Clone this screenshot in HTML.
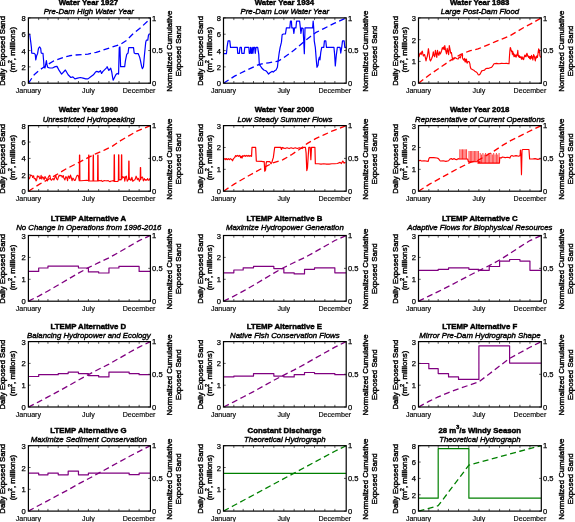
<!DOCTYPE html><html><head><meta charset="utf-8"><style>html,body{margin:0;padding:0;background:#fff;}svg{display:block;will-change:transform;}text{font-family:"Liberation Sans",sans-serif;}</style></head><body>
<svg width="575" height="522" viewBox="0 0 575 522">
<rect width="575" height="522" fill="#fff"/>
<clipPath id="c0"><rect x="28.4" y="17.9" width="122" height="65.3"/></clipPath>
<g clip-path="url(#c0)" fill="none" stroke="#0000ff" stroke-linejoin="round">
<polyline points="28.4,83.2 34.15,74.78 39.59,70.03 43.66,67.31 47.74,64.59 53.17,61.2 58.61,59.16 64.04,57.12 69.48,55.76 74.91,55.08 83.07,54.4 88,54.13 96.15,52.36 104.3,49.65 112.46,46.93 120.61,44.21 126.04,40.82 132.84,34.02 139.63,28.59 147.78,21.11 150.4,17.9" stroke-width="1.3" stroke-dasharray="6 3.5"/>
<polyline points="28.99,34.02 29.8,34.7 30.76,42.17 31.43,47.61 31.71,53.04 34.15,53.32 35.24,54.4 35.78,59.84 36.6,55.76 37.55,53.72 38.5,48.29 39.59,46.93 40.67,48.29 41.22,53.04 42.98,53.32 43.66,61.2 44.07,67.31 45.02,67.99 46.38,60.52 47.06,65.27 47.74,67.31 49.78,67.99 52.49,67.99 55.21,66.63 56.98,66.36 59.29,70.71 61.6,74.1 65.4,70.03 68.12,74.78 70.84,77.5 72.88,76.82 74.91,78.86 77.63,78.18 80.35,77.5 83.07,78.18 85.78,78.86 88,78.86 90.72,76.82 93.43,74.78 95.47,72.07 96.83,71.39 98.87,72.07 100.5,70.71 101.59,73.42 102.95,71.39 104.98,69.35 107.02,67.31 107.13,66.63 108.83,70.43 110.72,68.26 111.72,71.79 112.62,77.5 113.14,80.22 114.49,77.5 115.85,74.78 117.21,73.42 118.57,74.1 119.25,47.61 119.93,46.93 120.61,66.63 121.97,66.63 124.68,66.63 125.36,61.2 126.72,54.4 128.08,53.04 128.76,47.61 133.52,47.61 134.2,53.04 135.55,53.72 138.27,53.72 139.63,57.12 140.31,59.84 141.67,66.63 142.35,68.67 143.43,66.63 144.39,55.76 145.74,42.17 146.42,40.14 147.78,40.14 148.46,35.38 149.14,34.02 151.86,34.02" stroke-width="1.2"/>
</g>
<path d="M38.68 83.2v-2.2M38.68 17.9v2.2M47.96 83.2v-2.2M47.96 17.9v2.2M58.24 83.2v-2.2M58.24 17.9v2.2M68.18 83.2v-2.2M68.18 17.9v2.2M78.46 83.2v-2.2M78.46 17.9v2.2M88.41 83.2v-2.2M88.41 17.9v2.2M98.68 83.2v-2.2M98.68 17.9v2.2M108.96 83.2v-2.2M108.96 17.9v2.2M118.91 83.2v-2.2M118.91 17.9v2.2M129.18 83.2v-2.2M129.18 17.9v2.2M139.13 83.2v-2.2M139.13 17.9v2.2M28.4 83.2h2.2M28.4 66.88h2.2M28.4 50.55h2.2M28.4 34.22h2.2M28.4 17.9h2.2M150.4 83.2h-2.2M150.4 50.55h-2.2M150.4 17.9h-2.2" stroke="#333" stroke-width="0.8" fill="none"/>
<rect x="28.4" y="17.9" width="122" height="65.3" fill="none" stroke="#000" stroke-width="1.2"/>
<text x="88.4" y="5" font-size="7.8" font-weight="bold" text-anchor="middle" stroke="#000" stroke-width="0.45">Water Year 1927</text>
<text x="88.8" y="14.3" font-size="7.8" font-style="italic" text-anchor="middle" stroke="#000" stroke-width="0.4">Pre-Dam High Water Year</text>
<text x="25.8" y="86.2" font-size="7.6" text-anchor="end" stroke="#000" stroke-width="0.25">0</text>
<text x="25.8" y="69.88" font-size="7.6" text-anchor="end" stroke="#000" stroke-width="0.25">2</text>
<text x="25.8" y="53.55" font-size="7.6" text-anchor="end" stroke="#000" stroke-width="0.25">4</text>
<text x="25.8" y="37.22" font-size="7.6" text-anchor="end" stroke="#000" stroke-width="0.25">6</text>
<text x="25.8" y="20.9" font-size="7.6" text-anchor="end" stroke="#000" stroke-width="0.25">8</text>
<text x="152.1" y="85.9" font-size="7.6" stroke="#000" stroke-width="0.25">0</text>
<text x="152.1" y="53.25" font-size="7.6" stroke="#000" stroke-width="0.25">0.5</text>
<text x="152.1" y="20.6" font-size="7.6" stroke="#000" stroke-width="0.25">1</text>
<text x="28.4" y="92.7" font-size="7.1" text-anchor="middle" stroke="#000" stroke-width="0.15">January</text>
<text x="88.41" y="92.7" font-size="7.1" text-anchor="middle" stroke="#000" stroke-width="0.15">July</text>
<text x="139.13" y="92.7" font-size="7.1" text-anchor="middle" stroke="#000" stroke-width="0.15">December</text>
<text transform="translate(5.4,50.95) rotate(-90)" font-size="7.75" text-anchor="middle" stroke="#000" stroke-width="0.4">Daily Exposed Sand</text>
<text transform="translate(14.6,49.7) rotate(-90)" font-size="7.9" text-anchor="middle" stroke="#000" stroke-width="0.4">(m<tspan font-size="5.5" dy="-3">2</tspan><tspan dy="3">, millions)</tspan></text>
<text transform="translate(171.6,51.25) rotate(-90)" font-size="7.85" text-anchor="middle" stroke="#000" stroke-width="0.4">Normalized Cumulative</text>
<text transform="translate(181.1,51.05) rotate(-90)" font-size="7.85" text-anchor="middle" stroke="#000" stroke-width="0.4">Exposed Sand</text>
<clipPath id="c1"><rect x="223.5" y="17.9" width="122.7" height="65.3"/></clipPath>
<g clip-path="url(#c1)" fill="none" stroke="#0000ff" stroke-linejoin="round">
<polyline points="223.5,83.2 234.59,76.14 245.46,70.71 257.68,65 261.76,63.91 268.55,62.83 278.07,61.2 283,58.21 293.87,50.33 303.38,42.17 310.17,36.74 315.61,32.66 323.76,28.59 334.63,23.15 346.2,17.9" stroke-width="1.3" stroke-dasharray="6 3.5"/>
<polyline points="223.45,53.72 226.43,53.72 227.11,46.93 228.07,40.82 229.83,40.82 230.51,47.34 237.3,47.34 237.71,53.32 239.34,53.32 240.02,47.34 241.38,47.34 241.79,53.32 244.1,53.32 244.78,47.34 248.85,47.34 249.26,53.32 250.21,53.32 250.62,47.34 251.57,53.32 252.25,47.34 252.93,53.32 253.61,47.34 254.7,47.34 255.24,53.32 256.05,47.34 257.68,47.34 258.77,54.4 259.32,64.59 260.4,65.95 261.76,67.99 263.8,70.03 265.84,70.71 267.2,72.07 268.55,74.1 269.91,72.74 271.95,71.39 273.31,72.07 274.67,70.71 276.03,70.03 277.39,67.31 278.07,61.2 279.15,53.04 280.1,47.61 281.46,42.17 282.14,34.7 283.5,34.02 283,34.02 285.45,34.02 286.4,27.91 289.79,27.91 290.47,21.11 291.42,21.11 291.83,27.91 293.19,27.91 293.87,33.34 294.55,27.91 295.91,27.91 296.59,21.11 299.58,21.11 300.39,27.91 300.93,33.34 301.75,27.91 303.11,28.59 303.65,39.46 304.33,53.72 305.01,27.91 312.62,27.91 313.16,21.11 313.71,27.91 314.25,40.82 315.34,47.61 316.29,59.84 316.97,67.31 318.05,65.27 318.6,59.84 319.41,57.12 319.96,59.84 320.77,52.36 321.72,47.34 323.76,47.34 324.44,40.82 325.8,40.82 326.48,47.34 333.95,47.34 334.63,54.4 335.31,65.95 336.26,55.76 337.35,47.34 340.07,47.34 340.74,53.04 341.7,47.34 342.51,40.82 344.14,40.82 344.82,47.34 346.99,47.34" stroke-width="1.2"/>
</g>
<path d="M233.84 83.2v-2.2M233.84 17.9v2.2M243.17 83.2v-2.2M243.17 17.9v2.2M253.51 83.2v-2.2M253.51 17.9v2.2M263.51 83.2v-2.2M263.51 17.9v2.2M273.85 83.2v-2.2M273.85 17.9v2.2M283.85 83.2v-2.2M283.85 17.9v2.2M294.19 83.2v-2.2M294.19 17.9v2.2M304.52 83.2v-2.2M304.52 17.9v2.2M314.52 83.2v-2.2M314.52 17.9v2.2M324.86 83.2v-2.2M324.86 17.9v2.2M334.86 83.2v-2.2M334.86 17.9v2.2M223.5 83.2h2.2M223.5 66.88h2.2M223.5 50.55h2.2M223.5 34.22h2.2M223.5 17.9h2.2M346.2 83.2h-2.2M346.2 50.55h-2.2M346.2 17.9h-2.2" stroke="#333" stroke-width="0.8" fill="none"/>
<rect x="223.5" y="17.9" width="122.7" height="65.3" fill="none" stroke="#000" stroke-width="1.2"/>
<text x="284.45" y="5" font-size="7.8" font-weight="bold" text-anchor="middle" stroke="#000" stroke-width="0.45">Water Year 1934</text>
<text x="284.85" y="14.3" font-size="7.8" font-style="italic" text-anchor="middle" stroke="#000" stroke-width="0.4">Pre-Dam Low Water Year</text>
<text x="220.9" y="86.2" font-size="7.6" text-anchor="end" stroke="#000" stroke-width="0.25">0</text>
<text x="220.9" y="69.88" font-size="7.6" text-anchor="end" stroke="#000" stroke-width="0.25">2</text>
<text x="220.9" y="53.55" font-size="7.6" text-anchor="end" stroke="#000" stroke-width="0.25">4</text>
<text x="220.9" y="37.22" font-size="7.6" text-anchor="end" stroke="#000" stroke-width="0.25">6</text>
<text x="220.9" y="20.9" font-size="7.6" text-anchor="end" stroke="#000" stroke-width="0.25">8</text>
<text x="347.9" y="85.9" font-size="7.6" stroke="#000" stroke-width="0.25">0</text>
<text x="347.9" y="53.25" font-size="7.6" stroke="#000" stroke-width="0.25">0.5</text>
<text x="347.9" y="20.6" font-size="7.6" stroke="#000" stroke-width="0.25">1</text>
<text x="223.5" y="92.7" font-size="7.1" text-anchor="middle" stroke="#000" stroke-width="0.15">January</text>
<text x="283.85" y="92.7" font-size="7.1" text-anchor="middle" stroke="#000" stroke-width="0.15">July</text>
<text x="334.86" y="92.7" font-size="7.1" text-anchor="middle" stroke="#000" stroke-width="0.15">December</text>
<text transform="translate(203.1,50.95) rotate(-90)" font-size="7.75" text-anchor="middle" stroke="#000" stroke-width="0.4">Daily Exposed Sand</text>
<text transform="translate(212.3,49.7) rotate(-90)" font-size="7.9" text-anchor="middle" stroke="#000" stroke-width="0.4">(m<tspan font-size="5.5" dy="-3">2</tspan><tspan dy="3">, millions)</tspan></text>
<text transform="translate(367.9,51.25) rotate(-90)" font-size="7.85" text-anchor="middle" stroke="#000" stroke-width="0.4">Normalized Cumulative</text>
<text transform="translate(377.4,51.05) rotate(-90)" font-size="7.85" text-anchor="middle" stroke="#000" stroke-width="0.4">Exposed Sand</text>
<clipPath id="c2"><rect x="418.5" y="17.9" width="122.8" height="65.3"/></clipPath>
<g clip-path="url(#c2)" fill="none" stroke="#ff0000" stroke-linejoin="round">
<polyline points="418.5,83.2 429.59,74.78 440.46,67.31 451.33,59.84 460.84,54.4 470.35,50.6 478,48.97 486.15,45.57 494.3,42.17 502.46,38.78 510.61,35.38 517.4,31.3 525.55,26.55 532.35,23.15 541.3,17.9" stroke-width="1.3" stroke-dasharray="6 3.5"/>
<polyline points="418,56.35 419.04,56.7 419.74,53.91 420.43,52.87 421.13,54.61 421.83,51.83 422.31,51.13 422.87,53.91 423.43,56 423.91,54.96 424.61,54.61 425.3,57.39 426,60.87 426.7,58.09 427.39,56 428.43,48.7 429.13,53.91 429.83,59.48 430.52,60.87 431.57,58.78 432.61,56 433.3,51.83 433.86,55.3 434.7,56.7 435.39,50.43 436.09,53.91 436.78,57.39 437.48,50.43 438.17,53.91 438.87,55.3 439.57,51.83 440.26,53.91 440.96,52.52 441.65,50.43 442.35,47.65 443.04,49.04 443.74,46.96 444.3,49.74 444.78,45.57 445.27,48.35 445.83,51.13 446.52,53.91 447.22,48.35 447.91,51.13 448.61,54.61 449.3,45.57 450,49.04 450.7,53.22 451.39,52.52 452.09,56.7 452.78,60.17 453.48,58.09 454.17,58.78 454.87,57.39 457.04,58.7 458.09,59.04 458.78,57.65 459.48,56.96 460.17,58 460.87,55.91 461.57,54.87 462.26,54.52 462.61,54.87 462.4,57.65 462.96,59.04 463.65,60.09 464.35,58.35 465.04,61.83 465.74,59.04 466.09,61.83 466.43,59.04 467.13,63.22 467.83,61.83 468.52,61.48 469.22,61.83 469.91,63.91 470.26,66.7 470.96,68.78 472.35,69.48 473.74,70.17 474.78,71.22 476.17,71.91 477.22,72.96 478.26,74.7 478.96,75.04 480,74.35 481.04,72.26 481.74,70.87 483.13,70.52 484.52,70.17 485.57,68.78 486.96,68.43 488.35,68.43 490.09,67.74 491.48,67.39 492.17,66.7 494,63.79 496.5,63.37 499.01,63.79 501.51,63.37 504.02,63.54 506.52,63.37 509.03,63.79 509.44,56.69 509.86,50.85 510.28,47.51 510.69,48.35 511.11,50.02 511.53,51.69 511.95,50.85 512.36,54.19 512.78,51.69 513.2,55.03 513.62,53.36 514.03,56.69 514.45,55.86 514.87,54.61 515.29,56.69 515.7,55.44 516.12,57.11 516.54,55.86 516.95,54.19 517.37,55.03 517.79,50.43 518.21,55.86 518.62,56.69 519.04,55.44 519.46,57.53 519.88,56.28 520.29,57.53 520.71,57.11 521.13,57.95 521.55,59.2 521.96,56.69 522.38,57.53 522.8,59.2 523.22,57.95 523.63,59.62 524.05,57.53 524.47,56.28 524.88,55.03 525.3,56.69 525.72,55.44 526.14,56.69 526.55,54.19 526.97,53.36 527.39,54.61 527.81,56.28 528.22,55.86 528.64,57.53 529.06,56.69 529.48,58.36 529.89,56.28 530.31,59.2 530.73,56.69 531.15,57.95 531.56,55.44 531.98,58.36 532.4,56.69 532.81,60.03 533.23,57.53 533.65,54.61 534.07,55.86 534.48,56.69 534.9,59.2 535.32,60.87 535.74,57.95 536.15,56.28 536.57,57.95 536.99,55.86 537.41,57.53 537.82,55.03 538.24,51.69 538.66,48.76 539.08,52.52 539.49,50.02 539.91,55.86 540.33,56.69 540.74,57.53" stroke-width="1.15"/>
</g>
<path d="M428.84 83.2v-2.2M428.84 17.9v2.2M438.19 83.2v-2.2M438.19 17.9v2.2M448.53 83.2v-2.2M448.53 17.9v2.2M458.54 83.2v-2.2M458.54 17.9v2.2M468.89 83.2v-2.2M468.89 17.9v2.2M478.9 83.2v-2.2M478.9 17.9v2.2M489.24 83.2v-2.2M489.24 17.9v2.2M499.59 83.2v-2.2M499.59 17.9v2.2M509.6 83.2v-2.2M509.6 17.9v2.2M519.94 83.2v-2.2M519.94 17.9v2.2M529.95 83.2v-2.2M529.95 17.9v2.2M418.5 83.2h2.2M418.5 61.43h2.2M418.5 39.67h2.2M418.5 17.9h2.2M541.3 83.2h-2.2M541.3 50.55h-2.2M541.3 17.9h-2.2" stroke="#333" stroke-width="0.8" fill="none"/>
<rect x="418.5" y="17.9" width="122.8" height="65.3" fill="none" stroke="#000" stroke-width="1.2"/>
<text x="479.75" y="5" font-size="7.8" font-weight="bold" text-anchor="middle" stroke="#000" stroke-width="0.45">Water Year 1983</text>
<text x="479.9" y="14.3" font-size="7.8" font-style="italic" text-anchor="middle" stroke="#000" stroke-width="0.4">Large Post-Dam Flood</text>
<text x="415.9" y="86.2" font-size="7.6" text-anchor="end" stroke="#000" stroke-width="0.25">0</text>
<text x="415.9" y="64.43" font-size="7.6" text-anchor="end" stroke="#000" stroke-width="0.25">1</text>
<text x="415.9" y="42.67" font-size="7.6" text-anchor="end" stroke="#000" stroke-width="0.25">2</text>
<text x="415.9" y="20.9" font-size="7.6" text-anchor="end" stroke="#000" stroke-width="0.25">3</text>
<text x="543" y="85.9" font-size="7.6" stroke="#000" stroke-width="0.25">0</text>
<text x="543" y="53.25" font-size="7.6" stroke="#000" stroke-width="0.25">0.5</text>
<text x="543" y="20.6" font-size="7.6" stroke="#000" stroke-width="0.25">1</text>
<text x="418.5" y="92.7" font-size="7.1" text-anchor="middle" stroke="#000" stroke-width="0.15">January</text>
<text x="478.9" y="92.7" font-size="7.1" text-anchor="middle" stroke="#000" stroke-width="0.15">July</text>
<text x="529.95" y="92.7" font-size="7.1" text-anchor="middle" stroke="#000" stroke-width="0.15">December</text>
<text transform="translate(398.1,50.95) rotate(-90)" font-size="7.75" text-anchor="middle" stroke="#000" stroke-width="0.4">Daily Exposed Sand</text>
<text transform="translate(407.3,49.7) rotate(-90)" font-size="7.9" text-anchor="middle" stroke="#000" stroke-width="0.4">(m<tspan font-size="5.5" dy="-3">2</tspan><tspan dy="3">, millions)</tspan></text>
<text transform="translate(563.5,51.25) rotate(-90)" font-size="7.85" text-anchor="middle" stroke="#000" stroke-width="0.4">Normalized Cumulative</text>
<text transform="translate(573,51.05) rotate(-90)" font-size="7.85" text-anchor="middle" stroke="#000" stroke-width="0.4">Exposed Sand</text>
<clipPath id="c3"><rect x="28.4" y="125.6" width="122" height="65.6"/></clipPath>
<g clip-path="url(#c3)" fill="none" stroke="#ff0000" stroke-linejoin="round">
<polyline points="28.4,191.2 39.59,184.14 53.17,176.67 66.76,168.52 78.99,162.4 88,157.65 96.15,153.57 104.3,150.17 112.46,146.1 120.61,140.66 128.76,135.91 136.91,131.15 150.4,125.6" stroke-width="1.3" stroke-dasharray="6 3.5"/>
<polyline points="28.4,176.94 29.06,178.91 29.69,178.22 30.44,175.35 31.24,175.22 32.01,175.42 32.65,177.55 33.58,175.74 34.27,178.76 35.25,178.46 36.01,180.86 36.62,180.15 37.34,175.87 37.99,176.85 38.91,176.08 39.75,178.83 40.5,178.29 41.12,175.36 41.8,179.08 42.57,176.88 43.41,177.72 44.13,179.77 45.01,176.46 45.84,178.15 46.79,179.38 47.5,180.88 48.15,177.51 49.05,175.91 49.85,175.24 50.72,179.59 51.55,180.25 52.27,179.17 53.11,178.48 53.89,180.04 54.87,177.84 55.73,175.36 56.62,178.88 57.61,179.93 58.33,177.31 59.19,175.14 59.98,176.01 60.63,175.35 61.53,175.78 62.23,177.35 63.18,175.48 63.96,178.3 64.91,179.92 65.86,176.67 66.62,177.15 67.58,180.75 68.24,176.06 68.93,176.4 69.73,178.53 70.43,175.02 71.2,177.22 72.02,180.72 72.9,178.09 73.75,179.06 74.37,180.4 75.28,180.25 76.2,177.35 76.96,175.62 77.81,175.37 78.44,176.25 79.25,180.8 79.45,155 79.75,155 79.95,180.8 81,180.74 84,180.45 86.5,180.4 88.2,180.55 88.45,181 88.65,155 88.95,155 89.15,181 90.5,181 92.6,181 92.95,181 93.15,155 93.45,155 93.65,181 95,181 97.2,181 97.55,181 97.75,155 98.05,155 98.25,181 99.2,180.52 100.2,180.84 101.2,180.43 102.2,181.45 103.2,181.14 104.2,180.58 105.2,180.7 106.2,180.82 107.2,180.84 108.2,180.55 109.2,181.42 110.2,181.59 111.2,180.96 112.2,180.98 113.2,180.5 113.95,181.4 114.15,154.8 114.45,154.8 114.65,181.4 116,181.5 118,181.4 118.35,180 118.55,154.8 118.85,154.8 119.05,180 119.6,180 120.4,179.5 121,180 121.25,179 121.45,154.8 121.75,154.8 121.95,179 122.5,176.55 123.24,177.43 124.17,176.87 124.78,181.14 125.59,176.79 126.41,176.15 127.22,181.28 128.16,179.76 128.55,179.5 128.75,161.1 129.05,161.1 129.25,179.5 129.67,177.98 130.33,180.17 131.15,180.21 131.88,177.2 132.8,181.32 133.74,180.35 134.67,180 135.36,178.8 136.11,176.16 136.72,177.51 137.42,179.74 138.4,178.42 139.38,181.34 140.15,179.5 140.35,167.6 140.65,167.6 140.85,179.5 141.16,177.97 141.85,177.22 142.53,177.1 143.38,180.86 144.31,178.59 145.17,180.32 145.81,179.57 146.77,180.22 147.67,178.58 148.34,180.26 149.08,180.32 150.06,178.14" stroke-width="1.1"/>
</g>
<path d="M38.68 191.2v-2.2M38.68 125.6v2.2M47.96 191.2v-2.2M47.96 125.6v2.2M58.24 191.2v-2.2M58.24 125.6v2.2M68.18 191.2v-2.2M68.18 125.6v2.2M78.46 191.2v-2.2M78.46 125.6v2.2M88.41 191.2v-2.2M88.41 125.6v2.2M98.68 191.2v-2.2M98.68 125.6v2.2M108.96 191.2v-2.2M108.96 125.6v2.2M118.91 191.2v-2.2M118.91 125.6v2.2M129.18 191.2v-2.2M129.18 125.6v2.2M139.13 191.2v-2.2M139.13 125.6v2.2M28.4 191.2h2.2M28.4 174.8h2.2M28.4 158.4h2.2M28.4 142h2.2M28.4 125.6h2.2M150.4 191.2h-2.2M150.4 158.4h-2.2M150.4 125.6h-2.2" stroke="#333" stroke-width="0.8" fill="none"/>
<rect x="28.4" y="125.6" width="122" height="65.6" fill="none" stroke="#000" stroke-width="1.2"/>
<text x="88.4" y="112.3" font-size="7.8" font-weight="bold" text-anchor="middle" stroke="#000" stroke-width="0.45">Water Year 1990</text>
<text x="88.8" y="121.7" font-size="7.8" font-style="italic" text-anchor="middle" stroke="#000" stroke-width="0.4">Unrestricted Hydropeaking</text>
<text x="25.8" y="194.2" font-size="7.6" text-anchor="end" stroke="#000" stroke-width="0.25">0</text>
<text x="25.8" y="177.8" font-size="7.6" text-anchor="end" stroke="#000" stroke-width="0.25">2</text>
<text x="25.8" y="161.4" font-size="7.6" text-anchor="end" stroke="#000" stroke-width="0.25">4</text>
<text x="25.8" y="145" font-size="7.6" text-anchor="end" stroke="#000" stroke-width="0.25">6</text>
<text x="25.8" y="128.6" font-size="7.6" text-anchor="end" stroke="#000" stroke-width="0.25">8</text>
<text x="152.1" y="193.9" font-size="7.6" stroke="#000" stroke-width="0.25">0</text>
<text x="152.1" y="161.1" font-size="7.6" stroke="#000" stroke-width="0.25">0.5</text>
<text x="152.1" y="128.3" font-size="7.6" stroke="#000" stroke-width="0.25">1</text>
<text x="28.4" y="200.7" font-size="7.1" text-anchor="middle" stroke="#000" stroke-width="0.15">January</text>
<text x="88.41" y="200.7" font-size="7.1" text-anchor="middle" stroke="#000" stroke-width="0.15">July</text>
<text x="139.13" y="200.7" font-size="7.1" text-anchor="middle" stroke="#000" stroke-width="0.15">December</text>
<text transform="translate(5.4,158.8) rotate(-90)" font-size="7.75" text-anchor="middle" stroke="#000" stroke-width="0.4">Daily Exposed Sand</text>
<text transform="translate(14.6,157.55) rotate(-90)" font-size="7.9" text-anchor="middle" stroke="#000" stroke-width="0.4">(m<tspan font-size="5.5" dy="-3">2</tspan><tspan dy="3">, millions)</tspan></text>
<text transform="translate(171.6,159.1) rotate(-90)" font-size="7.85" text-anchor="middle" stroke="#000" stroke-width="0.4">Normalized Cumulative</text>
<text transform="translate(181.1,158.9) rotate(-90)" font-size="7.85" text-anchor="middle" stroke="#000" stroke-width="0.4">Exposed Sand</text>
<clipPath id="c4"><rect x="223.5" y="125.6" width="122.7" height="65.6"/></clipPath>
<g clip-path="url(#c4)" fill="none" stroke="#ff0000" stroke-linejoin="round">
<polyline points="223.5,191.2 234.59,183.87 248.17,175.99 261.76,168.52 272.63,163.08 283,159.68 291.15,154.93 299.3,149.49 307.46,143.38 315.61,138.62 323.76,134.96 331.91,131.15 346.2,125.6" stroke-width="1.3" stroke-dasharray="6 3.5"/>
<polyline points="223.72,159.41 225.08,158.6 225.76,159.68 226.43,158.6 227.52,159.68 228.47,158.6 229.42,159.68 230.51,158.6 231.87,159.68 232.55,160.77 233.5,158.6 234.59,157.65 235.67,155.61 236.62,156.29 237.58,155.34 238.66,156.29 239.75,155.34 240.7,157.65 241.38,156.29 242.06,158.05 242.74,155.61 243.83,156.29 244.78,155.34 245.73,156.29 246.82,155.34 247.9,156.29 248.85,155.34 249.8,156.29 250.89,155.61 251.57,156.29 251.98,147.46 254.97,147.46 255.65,147.46 256.33,161.04 261.76,161.32 263.12,161.72 264.21,161.72 264.75,171.23 265.57,169.88 266.11,163.76 266.52,161.72 269.91,161.72 271,163.76 271.95,162.4 272.63,159.68 273.31,157.65 274.67,147.46 280.78,147.46 281.46,149.49 282.14,147.46 283.5,148.14 283,147.73 285.04,148.54 287.08,147.73 289.11,148.54 291.15,147.73 293.19,148.54 295.23,147.73 297.27,148.54 299.3,147.73 302.02,148.54 303.38,147.46 305.42,147.46 306.1,152.89 306.78,170.55 307.46,167.84 308.14,156.97 308.82,147.46 310.17,147.46 310.85,159.68 311.53,147.46 314.93,147.46 315.34,163.76 318.33,163.76 321.04,164.03 323.76,163.76 326.48,164.03 329.2,164.03 331.91,163.76 334.63,163.76 337.35,163.49 340.07,162.4 341.42,163.49 342.78,161.04 344.14,163.08 345.5,162.4" stroke-width="1.2"/>
</g>
<path d="M233.84 191.2v-2.2M233.84 125.6v2.2M243.17 191.2v-2.2M243.17 125.6v2.2M253.51 191.2v-2.2M253.51 125.6v2.2M263.51 191.2v-2.2M263.51 125.6v2.2M273.85 191.2v-2.2M273.85 125.6v2.2M283.85 191.2v-2.2M283.85 125.6v2.2M294.19 191.2v-2.2M294.19 125.6v2.2M304.52 191.2v-2.2M304.52 125.6v2.2M314.52 191.2v-2.2M314.52 125.6v2.2M324.86 191.2v-2.2M324.86 125.6v2.2M334.86 191.2v-2.2M334.86 125.6v2.2M223.5 191.2h2.2M223.5 169.33h2.2M223.5 147.47h2.2M223.5 125.6h2.2M346.2 191.2h-2.2M346.2 158.4h-2.2M346.2 125.6h-2.2" stroke="#333" stroke-width="0.8" fill="none"/>
<rect x="223.5" y="125.6" width="122.7" height="65.6" fill="none" stroke="#000" stroke-width="1.2"/>
<text x="284.45" y="112.3" font-size="7.8" font-weight="bold" text-anchor="middle" stroke="#000" stroke-width="0.45">Water Year 2000</text>
<text x="284.85" y="121.7" font-size="7.8" font-style="italic" text-anchor="middle" stroke="#000" stroke-width="0.4">Low Steady Summer Flows</text>
<text x="220.9" y="194.2" font-size="7.6" text-anchor="end" stroke="#000" stroke-width="0.25">0</text>
<text x="220.9" y="172.33" font-size="7.6" text-anchor="end" stroke="#000" stroke-width="0.25">1</text>
<text x="220.9" y="150.47" font-size="7.6" text-anchor="end" stroke="#000" stroke-width="0.25">2</text>
<text x="220.9" y="128.6" font-size="7.6" text-anchor="end" stroke="#000" stroke-width="0.25">3</text>
<text x="347.9" y="193.9" font-size="7.6" stroke="#000" stroke-width="0.25">0</text>
<text x="347.9" y="161.1" font-size="7.6" stroke="#000" stroke-width="0.25">0.5</text>
<text x="347.9" y="128.3" font-size="7.6" stroke="#000" stroke-width="0.25">1</text>
<text x="223.5" y="200.7" font-size="7.1" text-anchor="middle" stroke="#000" stroke-width="0.15">January</text>
<text x="283.85" y="200.7" font-size="7.1" text-anchor="middle" stroke="#000" stroke-width="0.15">July</text>
<text x="334.86" y="200.7" font-size="7.1" text-anchor="middle" stroke="#000" stroke-width="0.15">December</text>
<text transform="translate(203.1,158.8) rotate(-90)" font-size="7.75" text-anchor="middle" stroke="#000" stroke-width="0.4">Daily Exposed Sand</text>
<text transform="translate(212.3,157.55) rotate(-90)" font-size="7.9" text-anchor="middle" stroke="#000" stroke-width="0.4">(m<tspan font-size="5.5" dy="-3">2</tspan><tspan dy="3">, millions)</tspan></text>
<text transform="translate(367.9,159.1) rotate(-90)" font-size="7.85" text-anchor="middle" stroke="#000" stroke-width="0.4">Normalized Cumulative</text>
<text transform="translate(377.4,158.9) rotate(-90)" font-size="7.85" text-anchor="middle" stroke="#000" stroke-width="0.4">Exposed Sand</text>
<clipPath id="c5"><rect x="418.5" y="125.6" width="122.8" height="65.6"/></clipPath>
<g clip-path="url(#c5)" fill="none" stroke="#ff0000" stroke-linejoin="round">
<polyline points="418.5,191.2 429.59,184.14 443.17,176.67 456.76,169.2 470.35,162.4 478,160.36 486.15,155.61 494.3,150.85 502.46,145.42 510.61,140.66 518.76,136.59 526.91,132.51 541.3,125.6" stroke-width="1.3" stroke-dasharray="6 3.5"/>
<polyline points="418.72,161.04 420.08,160.36 421.43,161.04 424.15,160.77 428.23,161.32 428.91,158.6 429.59,157.65 433.66,157.65 437.06,158.05 438.42,158.6 439.78,160.36 440.46,161.04 443.17,160.77 445.89,161.32 448.61,160.77 449.97,159.01 451.33,158.6 452.68,159.41 454.04,158.6 455.4,159.41 456.76,159.68 458.12,158.6 459.21,159.01 459.75,159.01 467.63,159.01 468.45,161.72 479.99,161.72 478,163.08 499.47,163.08 499.74,157.65 501.1,158.05 502.46,156.97 505.17,157.65 507.89,157.24 509.93,158.05 510.61,156.29 511.97,155.61 513.33,156.29 516.04,155.61 518.76,156.29 520.12,155.61 520.39,150.17 520.93,155.61 521.48,174.63 522.02,150.17 522.84,149.49 528.95,149.49 529.63,159.01 532.35,159.01 535.07,158.6 537.78,159.41 540.77,158.6" stroke-width="1.15"/>
<path d="M459.8 159.2V149.3M461.15 159.2V149.3M462.5 159.2V149.3M463.85 159.2V149.3M465.2 159.2V149.3M466.55 159.2V149.3M469 162V151M470.35 162V151M471.7 162V151M473.05 162V151M474.4 162V151M475.75 162V151M477.1 162V151M478.45 162V151M480.2 163V153M481.55 163V154.5M482.9 163V153M484.25 163V154.5M485.6 163V153M486.95 163V154.5M488.3 163V153M489.65 163V154.5M491 163V153M492.35 163V154.5M493.7 163V153M495.05 163V154.5M496.4 163V153M497.75 163V154.5M499.1 163V153" stroke-width="0.75"/>
</g>
<path d="M428.84 191.2v-2.2M428.84 125.6v2.2M438.19 191.2v-2.2M438.19 125.6v2.2M448.53 191.2v-2.2M448.53 125.6v2.2M458.54 191.2v-2.2M458.54 125.6v2.2M468.89 191.2v-2.2M468.89 125.6v2.2M478.9 191.2v-2.2M478.9 125.6v2.2M489.24 191.2v-2.2M489.24 125.6v2.2M499.59 191.2v-2.2M499.59 125.6v2.2M509.6 191.2v-2.2M509.6 125.6v2.2M519.94 191.2v-2.2M519.94 125.6v2.2M529.95 191.2v-2.2M529.95 125.6v2.2M418.5 191.2h2.2M418.5 169.33h2.2M418.5 147.47h2.2M418.5 125.6h2.2M541.3 191.2h-2.2M541.3 158.4h-2.2M541.3 125.6h-2.2" stroke="#333" stroke-width="0.8" fill="none"/>
<rect x="418.5" y="125.6" width="122.8" height="65.6" fill="none" stroke="#000" stroke-width="1.2"/>
<text x="479.75" y="112.3" font-size="7.8" font-weight="bold" text-anchor="middle" stroke="#000" stroke-width="0.45">Water Year 2018</text>
<text x="479.9" y="121.7" font-size="7.8" font-style="italic" text-anchor="middle" stroke="#000" stroke-width="0.4">Representative of Current Operations</text>
<text x="415.9" y="194.2" font-size="7.6" text-anchor="end" stroke="#000" stroke-width="0.25">0</text>
<text x="415.9" y="172.33" font-size="7.6" text-anchor="end" stroke="#000" stroke-width="0.25">1</text>
<text x="415.9" y="150.47" font-size="7.6" text-anchor="end" stroke="#000" stroke-width="0.25">2</text>
<text x="415.9" y="128.6" font-size="7.6" text-anchor="end" stroke="#000" stroke-width="0.25">3</text>
<text x="543" y="193.9" font-size="7.6" stroke="#000" stroke-width="0.25">0</text>
<text x="543" y="161.1" font-size="7.6" stroke="#000" stroke-width="0.25">0.5</text>
<text x="543" y="128.3" font-size="7.6" stroke="#000" stroke-width="0.25">1</text>
<text x="418.5" y="200.7" font-size="7.1" text-anchor="middle" stroke="#000" stroke-width="0.15">January</text>
<text x="478.9" y="200.7" font-size="7.1" text-anchor="middle" stroke="#000" stroke-width="0.15">July</text>
<text x="529.95" y="200.7" font-size="7.1" text-anchor="middle" stroke="#000" stroke-width="0.15">December</text>
<text transform="translate(398.1,158.8) rotate(-90)" font-size="7.75" text-anchor="middle" stroke="#000" stroke-width="0.4">Daily Exposed Sand</text>
<text transform="translate(407.3,157.55) rotate(-90)" font-size="7.9" text-anchor="middle" stroke="#000" stroke-width="0.4">(m<tspan font-size="5.5" dy="-3">2</tspan><tspan dy="3">, millions)</tspan></text>
<text transform="translate(563.5,159.1) rotate(-90)" font-size="7.85" text-anchor="middle" stroke="#000" stroke-width="0.4">Normalized Cumulative</text>
<text transform="translate(573,158.9) rotate(-90)" font-size="7.85" text-anchor="middle" stroke="#000" stroke-width="0.4">Exposed Sand</text>
<clipPath id="c6"><rect x="28.4" y="235.5" width="122" height="65.7"/></clipPath>
<g clip-path="url(#c6)" fill="none" stroke="#800080" stroke-linejoin="round">
<polyline points="28.4,301.2 38.68,296.1 47.96,290.96 58.24,284.97 68.18,279.17 78.46,273.18 88.41,267.68 98.68,262.66 108.96,257.83 118.91,252.33 129.18,246.37 139.13,240.6 150.4,235.5" stroke-width="1.3" stroke-dasharray="6 3.5"/>
<polyline points="28.4,271.4 38.68,271.4 38.68,268 47.96,268 47.96,266.2 58.24,266.2 58.24,266.2 68.18,266.2 68.18,266.2 78.46,266.2 78.46,268 88.41,268 88.41,271.9 98.68,271.9 98.68,273 108.96,273 108.96,268 118.91,268 118.91,266.4 129.18,266.4 129.18,266.4 139.13,266.4 139.13,271.4 150.4,271.4" stroke-width="1.2"/>
</g>
<path d="M38.68 301.2v-2.2M38.68 235.5v2.2M47.96 301.2v-2.2M47.96 235.5v2.2M58.24 301.2v-2.2M58.24 235.5v2.2M68.18 301.2v-2.2M68.18 235.5v2.2M78.46 301.2v-2.2M78.46 235.5v2.2M88.41 301.2v-2.2M88.41 235.5v2.2M98.68 301.2v-2.2M98.68 235.5v2.2M108.96 301.2v-2.2M108.96 235.5v2.2M118.91 301.2v-2.2M118.91 235.5v2.2M129.18 301.2v-2.2M129.18 235.5v2.2M139.13 301.2v-2.2M139.13 235.5v2.2M28.4 301.2h2.2M28.4 279.3h2.2M28.4 257.4h2.2M28.4 235.5h2.2M150.4 301.2h-2.2M150.4 268.35h-2.2M150.4 235.5h-2.2" stroke="#333" stroke-width="0.8" fill="none"/>
<rect x="28.4" y="235.5" width="122" height="65.7" fill="none" stroke="#000" stroke-width="1.2"/>
<text x="88.4" y="220.7" font-size="7.8" font-weight="bold" text-anchor="middle" stroke="#000" stroke-width="0.45">LTEMP Alternative A</text>
<text x="88.8" y="230.4" font-size="7.8" font-style="italic" text-anchor="middle" stroke="#000" stroke-width="0.4">No Change in Operations from 1996-2016</text>
<text x="25.8" y="304.2" font-size="7.6" text-anchor="end" stroke="#000" stroke-width="0.25">0</text>
<text x="25.8" y="282.3" font-size="7.6" text-anchor="end" stroke="#000" stroke-width="0.25">1</text>
<text x="25.8" y="260.4" font-size="7.6" text-anchor="end" stroke="#000" stroke-width="0.25">2</text>
<text x="25.8" y="238.5" font-size="7.6" text-anchor="end" stroke="#000" stroke-width="0.25">3</text>
<text x="152.1" y="303.9" font-size="7.6" stroke="#000" stroke-width="0.25">0</text>
<text x="152.1" y="271.05" font-size="7.6" stroke="#000" stroke-width="0.25">0.5</text>
<text x="152.1" y="238.2" font-size="7.6" stroke="#000" stroke-width="0.25">1</text>
<text x="28.4" y="310.7" font-size="7.1" text-anchor="middle" stroke="#000" stroke-width="0.15">January</text>
<text x="88.41" y="310.7" font-size="7.1" text-anchor="middle" stroke="#000" stroke-width="0.15">July</text>
<text x="139.13" y="310.7" font-size="7.1" text-anchor="middle" stroke="#000" stroke-width="0.15">December</text>
<text transform="translate(5.4,268.75) rotate(-90)" font-size="7.75" text-anchor="middle" stroke="#000" stroke-width="0.4">Daily Exposed Sand</text>
<text transform="translate(14.6,267.5) rotate(-90)" font-size="7.9" text-anchor="middle" stroke="#000" stroke-width="0.4">(m<tspan font-size="5.5" dy="-3">2</tspan><tspan dy="3">, millions)</tspan></text>
<text transform="translate(171.6,269.05) rotate(-90)" font-size="7.85" text-anchor="middle" stroke="#000" stroke-width="0.4">Normalized Cumulative</text>
<text transform="translate(181.1,268.85) rotate(-90)" font-size="7.85" text-anchor="middle" stroke="#000" stroke-width="0.4">Exposed Sand</text>
<clipPath id="c7"><rect x="223.5" y="235.5" width="122.7" height="65.7"/></clipPath>
<g clip-path="url(#c7)" fill="none" stroke="#800080" stroke-linejoin="round">
<polyline points="223.5,301.2 233.84,296.17 243.17,291.17 253.51,285.25 263.51,279.28 273.85,273.12 283.85,267.52 294.19,262.49 304.52,257.65 314.52,252.18 324.86,246.26 334.86,240.53 346.2,235.5" stroke-width="1.3" stroke-dasharray="6 3.5"/>
<polyline points="223.5,272.8 233.84,272.8 233.84,270 243.17,270 243.17,267.8 253.51,267.8 253.51,266.4 263.51,266.4 263.51,266.4 273.85,266.4 273.85,268.6 283.85,268.6 283.85,272.8 294.19,272.8 294.19,273.9 304.52,273.9 304.52,269.3 314.52,269.3 314.52,267.8 324.86,267.8 324.86,267.8 334.86,267.8 334.86,272.8 346.2,272.8" stroke-width="1.2"/>
</g>
<path d="M233.84 301.2v-2.2M233.84 235.5v2.2M243.17 301.2v-2.2M243.17 235.5v2.2M253.51 301.2v-2.2M253.51 235.5v2.2M263.51 301.2v-2.2M263.51 235.5v2.2M273.85 301.2v-2.2M273.85 235.5v2.2M283.85 301.2v-2.2M283.85 235.5v2.2M294.19 301.2v-2.2M294.19 235.5v2.2M304.52 301.2v-2.2M304.52 235.5v2.2M314.52 301.2v-2.2M314.52 235.5v2.2M324.86 301.2v-2.2M324.86 235.5v2.2M334.86 301.2v-2.2M334.86 235.5v2.2M223.5 301.2h2.2M223.5 279.3h2.2M223.5 257.4h2.2M223.5 235.5h2.2M346.2 301.2h-2.2M346.2 268.35h-2.2M346.2 235.5h-2.2" stroke="#333" stroke-width="0.8" fill="none"/>
<rect x="223.5" y="235.5" width="122.7" height="65.7" fill="none" stroke="#000" stroke-width="1.2"/>
<text x="284.45" y="220.7" font-size="7.8" font-weight="bold" text-anchor="middle" stroke="#000" stroke-width="0.45">LTEMP Alternative B</text>
<text x="284.85" y="230.4" font-size="7.8" font-style="italic" text-anchor="middle" stroke="#000" stroke-width="0.4">Maximize Hydropower Generation</text>
<text x="220.9" y="304.2" font-size="7.6" text-anchor="end" stroke="#000" stroke-width="0.25">0</text>
<text x="220.9" y="282.3" font-size="7.6" text-anchor="end" stroke="#000" stroke-width="0.25">1</text>
<text x="220.9" y="260.4" font-size="7.6" text-anchor="end" stroke="#000" stroke-width="0.25">2</text>
<text x="220.9" y="238.5" font-size="7.6" text-anchor="end" stroke="#000" stroke-width="0.25">3</text>
<text x="347.9" y="303.9" font-size="7.6" stroke="#000" stroke-width="0.25">0</text>
<text x="347.9" y="271.05" font-size="7.6" stroke="#000" stroke-width="0.25">0.5</text>
<text x="347.9" y="238.2" font-size="7.6" stroke="#000" stroke-width="0.25">1</text>
<text x="223.5" y="310.7" font-size="7.1" text-anchor="middle" stroke="#000" stroke-width="0.15">January</text>
<text x="283.85" y="310.7" font-size="7.1" text-anchor="middle" stroke="#000" stroke-width="0.15">July</text>
<text x="334.86" y="310.7" font-size="7.1" text-anchor="middle" stroke="#000" stroke-width="0.15">December</text>
<text transform="translate(203.1,268.75) rotate(-90)" font-size="7.75" text-anchor="middle" stroke="#000" stroke-width="0.4">Daily Exposed Sand</text>
<text transform="translate(212.3,267.5) rotate(-90)" font-size="7.9" text-anchor="middle" stroke="#000" stroke-width="0.4">(m<tspan font-size="5.5" dy="-3">2</tspan><tspan dy="3">, millions)</tspan></text>
<text transform="translate(367.9,269.05) rotate(-90)" font-size="7.85" text-anchor="middle" stroke="#000" stroke-width="0.4">Normalized Cumulative</text>
<text transform="translate(377.4,268.85) rotate(-90)" font-size="7.85" text-anchor="middle" stroke="#000" stroke-width="0.4">Exposed Sand</text>
<clipPath id="c8"><rect x="418.5" y="235.5" width="122.8" height="65.7"/></clipPath>
<g clip-path="url(#c8)" fill="none" stroke="#800080" stroke-linejoin="round">
<polyline points="418.5,301.2 428.84,296.16 438.19,291.62 448.53,286.42 458.54,281.15 468.89,275.7 478.9,270.67 489.24,265.64 499.59,259.98 509.6,253.66 519.94,246.86 529.95,240.54 541.3,235.5" stroke-width="1.3" stroke-dasharray="6 3.5"/>
<polyline points="418.5,270.3 428.84,270.3 428.84,270.3 438.19,270.3 438.19,269.3 448.53,269.3 448.53,267.8 458.54,267.8 458.54,267.8 468.89,267.8 468.89,269.3 478.9,269.3 478.9,270.3 489.24,270.3 489.24,266.5 499.59,266.5 499.59,261.1 509.6,261.1 509.6,259.5 519.94,259.5 519.94,261.1 529.95,261.1 529.95,270.3 541.3,270.3" stroke-width="1.2"/>
</g>
<path d="M428.84 301.2v-2.2M428.84 235.5v2.2M438.19 301.2v-2.2M438.19 235.5v2.2M448.53 301.2v-2.2M448.53 235.5v2.2M458.54 301.2v-2.2M458.54 235.5v2.2M468.89 301.2v-2.2M468.89 235.5v2.2M478.9 301.2v-2.2M478.9 235.5v2.2M489.24 301.2v-2.2M489.24 235.5v2.2M499.59 301.2v-2.2M499.59 235.5v2.2M509.6 301.2v-2.2M509.6 235.5v2.2M519.94 301.2v-2.2M519.94 235.5v2.2M529.95 301.2v-2.2M529.95 235.5v2.2M418.5 301.2h2.2M418.5 279.3h2.2M418.5 257.4h2.2M418.5 235.5h2.2M541.3 301.2h-2.2M541.3 268.35h-2.2M541.3 235.5h-2.2" stroke="#333" stroke-width="0.8" fill="none"/>
<rect x="418.5" y="235.5" width="122.8" height="65.7" fill="none" stroke="#000" stroke-width="1.2"/>
<text x="479.75" y="220.7" font-size="7.8" font-weight="bold" text-anchor="middle" stroke="#000" stroke-width="0.45">LTEMP Alternative C</text>
<text x="479.9" y="230.4" font-size="7.8" font-style="italic" text-anchor="middle" stroke="#000" stroke-width="0.4">Adaptive Flows for Biophysical Resources</text>
<text x="415.9" y="304.2" font-size="7.6" text-anchor="end" stroke="#000" stroke-width="0.25">0</text>
<text x="415.9" y="282.3" font-size="7.6" text-anchor="end" stroke="#000" stroke-width="0.25">1</text>
<text x="415.9" y="260.4" font-size="7.6" text-anchor="end" stroke="#000" stroke-width="0.25">2</text>
<text x="415.9" y="238.5" font-size="7.6" text-anchor="end" stroke="#000" stroke-width="0.25">3</text>
<text x="543" y="303.9" font-size="7.6" stroke="#000" stroke-width="0.25">0</text>
<text x="543" y="271.05" font-size="7.6" stroke="#000" stroke-width="0.25">0.5</text>
<text x="543" y="238.2" font-size="7.6" stroke="#000" stroke-width="0.25">1</text>
<text x="418.5" y="310.7" font-size="7.1" text-anchor="middle" stroke="#000" stroke-width="0.15">January</text>
<text x="478.9" y="310.7" font-size="7.1" text-anchor="middle" stroke="#000" stroke-width="0.15">July</text>
<text x="529.95" y="310.7" font-size="7.1" text-anchor="middle" stroke="#000" stroke-width="0.15">December</text>
<text transform="translate(398.1,268.75) rotate(-90)" font-size="7.75" text-anchor="middle" stroke="#000" stroke-width="0.4">Daily Exposed Sand</text>
<text transform="translate(407.3,267.5) rotate(-90)" font-size="7.9" text-anchor="middle" stroke="#000" stroke-width="0.4">(m<tspan font-size="5.5" dy="-3">2</tspan><tspan dy="3">, millions)</tspan></text>
<text transform="translate(563.5,269.05) rotate(-90)" font-size="7.85" text-anchor="middle" stroke="#000" stroke-width="0.4">Normalized Cumulative</text>
<text transform="translate(573,268.85) rotate(-90)" font-size="7.85" text-anchor="middle" stroke="#000" stroke-width="0.4">Exposed Sand</text>
<clipPath id="c9"><rect x="28.4" y="341.6" width="122" height="65.4"/></clipPath>
<g clip-path="url(#c9)" fill="none" stroke="#800080" stroke-linejoin="round">
<polyline points="28.4,407 38.68,401.83 47.96,396.89 58.24,391.42 68.18,385.94 78.46,380.05 88.41,374.57 98.68,369.25 108.96,364.15 118.91,358.44 129.18,352.55 139.13,347.07 150.4,341.6" stroke-width="1.3" stroke-dasharray="6 3.5"/>
<polyline points="28.4,376.5 38.68,376.5 38.68,374.7 47.96,374.7 47.96,374.7 58.24,374.7 58.24,373.6 68.18,373.6 68.18,372.2 78.46,372.2 78.46,373.6 88.41,373.6 88.41,375.6 98.68,375.6 98.68,376.9 108.96,376.9 108.96,372.2 118.91,372.2 118.91,372.2 129.18,372.2 129.18,373.6 139.13,373.6 139.13,374.7 150.4,374.7" stroke-width="1.2"/>
</g>
<path d="M38.68 407v-2.2M38.68 341.6v2.2M47.96 407v-2.2M47.96 341.6v2.2M58.24 407v-2.2M58.24 341.6v2.2M68.18 407v-2.2M68.18 341.6v2.2M78.46 407v-2.2M78.46 341.6v2.2M88.41 407v-2.2M88.41 341.6v2.2M98.68 407v-2.2M98.68 341.6v2.2M108.96 407v-2.2M108.96 341.6v2.2M118.91 407v-2.2M118.91 341.6v2.2M129.18 407v-2.2M129.18 341.6v2.2M139.13 407v-2.2M139.13 341.6v2.2M28.4 407h2.2M28.4 385.2h2.2M28.4 363.4h2.2M28.4 341.6h2.2M150.4 407h-2.2M150.4 374.3h-2.2M150.4 341.6h-2.2" stroke="#333" stroke-width="0.8" fill="none"/>
<rect x="28.4" y="341.6" width="122" height="65.4" fill="none" stroke="#000" stroke-width="1.2"/>
<text x="88.4" y="328.6" font-size="7.8" font-weight="bold" text-anchor="middle" stroke="#000" stroke-width="0.45">LTEMP Alternative D</text>
<text x="88.8" y="337.8" font-size="7.8" font-style="italic" text-anchor="middle" stroke="#000" stroke-width="0.4">Balancing Hydropower and Ecology</text>
<text x="25.8" y="410" font-size="7.6" text-anchor="end" stroke="#000" stroke-width="0.25">0</text>
<text x="25.8" y="388.2" font-size="7.6" text-anchor="end" stroke="#000" stroke-width="0.25">1</text>
<text x="25.8" y="366.4" font-size="7.6" text-anchor="end" stroke="#000" stroke-width="0.25">2</text>
<text x="25.8" y="344.6" font-size="7.6" text-anchor="end" stroke="#000" stroke-width="0.25">3</text>
<text x="152.1" y="409.7" font-size="7.6" stroke="#000" stroke-width="0.25">0</text>
<text x="152.1" y="377" font-size="7.6" stroke="#000" stroke-width="0.25">0.5</text>
<text x="152.1" y="344.3" font-size="7.6" stroke="#000" stroke-width="0.25">1</text>
<text x="28.4" y="416.5" font-size="7.1" text-anchor="middle" stroke="#000" stroke-width="0.15">January</text>
<text x="88.41" y="416.5" font-size="7.1" text-anchor="middle" stroke="#000" stroke-width="0.15">July</text>
<text x="139.13" y="416.5" font-size="7.1" text-anchor="middle" stroke="#000" stroke-width="0.15">December</text>
<text transform="translate(5.4,374.7) rotate(-90)" font-size="7.75" text-anchor="middle" stroke="#000" stroke-width="0.4">Daily Exposed Sand</text>
<text transform="translate(14.6,373.45) rotate(-90)" font-size="7.9" text-anchor="middle" stroke="#000" stroke-width="0.4">(m<tspan font-size="5.5" dy="-3">2</tspan><tspan dy="3">, millions)</tspan></text>
<text transform="translate(171.6,375) rotate(-90)" font-size="7.85" text-anchor="middle" stroke="#000" stroke-width="0.4">Normalized Cumulative</text>
<text transform="translate(181.1,374.8) rotate(-90)" font-size="7.85" text-anchor="middle" stroke="#000" stroke-width="0.4">Exposed Sand</text>
<clipPath id="c10"><rect x="223.5" y="341.6" width="122.7" height="65.4"/></clipPath>
<g clip-path="url(#c10)" fill="none" stroke="#800080" stroke-linejoin="round">
<polyline points="223.5,407 233.84,401.8 243.17,396.97 253.51,391.63 263.51,386.04 273.85,380.27 283.85,375.1 294.19,369.9 304.52,364.32 314.52,358.54 324.86,352.77 334.86,347.18 346.2,341.6" stroke-width="1.3" stroke-dasharray="6 3.5"/>
<polyline points="223.5,376.9 233.84,376.9 233.84,376.1 243.17,376.1 243.17,376.1 253.51,376.1 253.51,373.6 263.51,373.6 263.51,373.6 273.85,373.6 273.85,376.1 283.85,376.1 283.85,376.9 294.19,376.9 294.19,374.7 304.52,374.7 304.52,372.5 314.52,372.5 314.52,373.6 324.86,373.6 324.86,373.6 334.86,373.6 334.86,374.7 346.2,374.7" stroke-width="1.2"/>
</g>
<path d="M233.84 407v-2.2M233.84 341.6v2.2M243.17 407v-2.2M243.17 341.6v2.2M253.51 407v-2.2M253.51 341.6v2.2M263.51 407v-2.2M263.51 341.6v2.2M273.85 407v-2.2M273.85 341.6v2.2M283.85 407v-2.2M283.85 341.6v2.2M294.19 407v-2.2M294.19 341.6v2.2M304.52 407v-2.2M304.52 341.6v2.2M314.52 407v-2.2M314.52 341.6v2.2M324.86 407v-2.2M324.86 341.6v2.2M334.86 407v-2.2M334.86 341.6v2.2M223.5 407h2.2M223.5 385.2h2.2M223.5 363.4h2.2M223.5 341.6h2.2M346.2 407h-2.2M346.2 374.3h-2.2M346.2 341.6h-2.2" stroke="#333" stroke-width="0.8" fill="none"/>
<rect x="223.5" y="341.6" width="122.7" height="65.4" fill="none" stroke="#000" stroke-width="1.2"/>
<text x="284.45" y="328.6" font-size="7.8" font-weight="bold" text-anchor="middle" stroke="#000" stroke-width="0.45">LTEMP Alternative E</text>
<text x="284.85" y="337.8" font-size="7.8" font-style="italic" text-anchor="middle" stroke="#000" stroke-width="0.4">Native Fish Conservation Flows</text>
<text x="220.9" y="410" font-size="7.6" text-anchor="end" stroke="#000" stroke-width="0.25">0</text>
<text x="220.9" y="388.2" font-size="7.6" text-anchor="end" stroke="#000" stroke-width="0.25">1</text>
<text x="220.9" y="366.4" font-size="7.6" text-anchor="end" stroke="#000" stroke-width="0.25">2</text>
<text x="220.9" y="344.6" font-size="7.6" text-anchor="end" stroke="#000" stroke-width="0.25">3</text>
<text x="347.9" y="409.7" font-size="7.6" stroke="#000" stroke-width="0.25">0</text>
<text x="347.9" y="377" font-size="7.6" stroke="#000" stroke-width="0.25">0.5</text>
<text x="347.9" y="344.3" font-size="7.6" stroke="#000" stroke-width="0.25">1</text>
<text x="223.5" y="416.5" font-size="7.1" text-anchor="middle" stroke="#000" stroke-width="0.15">January</text>
<text x="283.85" y="416.5" font-size="7.1" text-anchor="middle" stroke="#000" stroke-width="0.15">July</text>
<text x="334.86" y="416.5" font-size="7.1" text-anchor="middle" stroke="#000" stroke-width="0.15">December</text>
<text transform="translate(203.1,374.7) rotate(-90)" font-size="7.75" text-anchor="middle" stroke="#000" stroke-width="0.4">Daily Exposed Sand</text>
<text transform="translate(212.3,373.45) rotate(-90)" font-size="7.9" text-anchor="middle" stroke="#000" stroke-width="0.4">(m<tspan font-size="5.5" dy="-3">2</tspan><tspan dy="3">, millions)</tspan></text>
<text transform="translate(367.9,375) rotate(-90)" font-size="7.85" text-anchor="middle" stroke="#000" stroke-width="0.4">Normalized Cumulative</text>
<text transform="translate(377.4,374.8) rotate(-90)" font-size="7.85" text-anchor="middle" stroke="#000" stroke-width="0.4">Exposed Sand</text>
<clipPath id="c11"><rect x="418.5" y="341.6" width="122.8" height="65.4"/></clipPath>
<g clip-path="url(#c11)" fill="none" stroke="#800080" stroke-linejoin="round">
<polyline points="418.5,407 428.84,401.38 438.19,396.92 448.53,392.61 458.54,388.84 468.89,385.28 478.9,381.83 489.24,373.94 499.59,366.06 509.6,358.42 519.94,352.75 529.95,347.27 541.3,341.6" stroke-width="1.3" stroke-dasharray="6 3.5"/>
<polyline points="418.5,363.5 428.84,363.5 428.84,368.7 438.19,368.7 438.19,373.6 448.53,373.6 448.53,376.9 458.54,376.9 458.54,379.4 468.89,379.4 468.89,379.4 478.9,379.4 478.9,345.9 489.24,345.9 489.24,345.9 499.59,345.9 499.59,345.9 509.6,345.9 509.6,363.1 519.94,363.1 519.94,363.1 529.95,363.1 529.95,363.1 541.3,363.1" stroke-width="1.2"/>
</g>
<path d="M428.84 407v-2.2M428.84 341.6v2.2M438.19 407v-2.2M438.19 341.6v2.2M448.53 407v-2.2M448.53 341.6v2.2M458.54 407v-2.2M458.54 341.6v2.2M468.89 407v-2.2M468.89 341.6v2.2M478.9 407v-2.2M478.9 341.6v2.2M489.24 407v-2.2M489.24 341.6v2.2M499.59 407v-2.2M499.59 341.6v2.2M509.6 407v-2.2M509.6 341.6v2.2M519.94 407v-2.2M519.94 341.6v2.2M529.95 407v-2.2M529.95 341.6v2.2M418.5 407h2.2M418.5 385.2h2.2M418.5 363.4h2.2M418.5 341.6h2.2M541.3 407h-2.2M541.3 374.3h-2.2M541.3 341.6h-2.2" stroke="#333" stroke-width="0.8" fill="none"/>
<rect x="418.5" y="341.6" width="122.8" height="65.4" fill="none" stroke="#000" stroke-width="1.2"/>
<text x="479.75" y="328.6" font-size="7.8" font-weight="bold" text-anchor="middle" stroke="#000" stroke-width="0.45">LTEMP Alternative F</text>
<text x="479.9" y="337.8" font-size="7.8" font-style="italic" text-anchor="middle" stroke="#000" stroke-width="0.4">Mirror Pre-Dam Hydrograph Shape</text>
<text x="415.9" y="410" font-size="7.6" text-anchor="end" stroke="#000" stroke-width="0.25">0</text>
<text x="415.9" y="388.2" font-size="7.6" text-anchor="end" stroke="#000" stroke-width="0.25">1</text>
<text x="415.9" y="366.4" font-size="7.6" text-anchor="end" stroke="#000" stroke-width="0.25">2</text>
<text x="415.9" y="344.6" font-size="7.6" text-anchor="end" stroke="#000" stroke-width="0.25">3</text>
<text x="543" y="409.7" font-size="7.6" stroke="#000" stroke-width="0.25">0</text>
<text x="543" y="377" font-size="7.6" stroke="#000" stroke-width="0.25">0.5</text>
<text x="543" y="344.3" font-size="7.6" stroke="#000" stroke-width="0.25">1</text>
<text x="418.5" y="416.5" font-size="7.1" text-anchor="middle" stroke="#000" stroke-width="0.15">January</text>
<text x="478.9" y="416.5" font-size="7.1" text-anchor="middle" stroke="#000" stroke-width="0.15">July</text>
<text x="529.95" y="416.5" font-size="7.1" text-anchor="middle" stroke="#000" stroke-width="0.15">December</text>
<text transform="translate(398.1,374.7) rotate(-90)" font-size="7.75" text-anchor="middle" stroke="#000" stroke-width="0.4">Daily Exposed Sand</text>
<text transform="translate(407.3,373.45) rotate(-90)" font-size="7.9" text-anchor="middle" stroke="#000" stroke-width="0.4">(m<tspan font-size="5.5" dy="-3">2</tspan><tspan dy="3">, millions)</tspan></text>
<text transform="translate(563.5,375) rotate(-90)" font-size="7.85" text-anchor="middle" stroke="#000" stroke-width="0.4">Normalized Cumulative</text>
<text transform="translate(573,374.8) rotate(-90)" font-size="7.85" text-anchor="middle" stroke="#000" stroke-width="0.4">Exposed Sand</text>
<clipPath id="c12"><rect x="28.4" y="445.7" width="122" height="65.4"/></clipPath>
<g clip-path="url(#c12)" fill="none" stroke="#800080" stroke-linejoin="round">
<polyline points="28.4,511.1 38.68,505.49 47.96,500.65 58.24,495.04 68.18,489.86 78.46,483.95 88.41,478.77 98.68,473.16 108.96,467.55 118.91,462.12 129.18,456.51 139.13,451.31 150.4,445.7" stroke-width="1.3" stroke-dasharray="6 3.5"/>
<polyline points="28.4,473.1 38.68,473.1 38.68,474.8 47.96,474.8 47.96,473.1 58.24,473.1 58.24,474.8 68.18,474.8 68.18,471.1 78.46,471.1 78.46,474.8 88.41,474.8 88.41,473.1 98.68,473.1 98.68,473.1 108.96,473.1 108.96,473.1 118.91,473.1 118.91,473.1 129.18,473.1 129.18,474.7 139.13,474.7 139.13,473.1 150.4,473.1" stroke-width="1.2"/>
</g>
<path d="M38.68 511.1v-2.2M38.68 445.7v2.2M47.96 511.1v-2.2M47.96 445.7v2.2M58.24 511.1v-2.2M58.24 445.7v2.2M68.18 511.1v-2.2M68.18 445.7v2.2M78.46 511.1v-2.2M78.46 445.7v2.2M88.41 511.1v-2.2M88.41 445.7v2.2M98.68 511.1v-2.2M98.68 445.7v2.2M108.96 511.1v-2.2M108.96 445.7v2.2M118.91 511.1v-2.2M118.91 445.7v2.2M129.18 511.1v-2.2M129.18 445.7v2.2M139.13 511.1v-2.2M139.13 445.7v2.2M28.4 511.1h2.2M28.4 489.3h2.2M28.4 467.5h2.2M28.4 445.7h2.2M150.4 511.1h-2.2M150.4 478.4h-2.2M150.4 445.7h-2.2" stroke="#333" stroke-width="0.8" fill="none"/>
<rect x="28.4" y="445.7" width="122" height="65.4" fill="none" stroke="#000" stroke-width="1.2"/>
<text x="88.4" y="432.6" font-size="7.8" font-weight="bold" text-anchor="middle" stroke="#000" stroke-width="0.45">LTEMP Alternative G</text>
<text x="88.8" y="442.2" font-size="7.8" font-style="italic" text-anchor="middle" stroke="#000" stroke-width="0.4">Maximize Sediment Conservation</text>
<text x="25.8" y="514.1" font-size="7.6" text-anchor="end" stroke="#000" stroke-width="0.25">0</text>
<text x="25.8" y="492.3" font-size="7.6" text-anchor="end" stroke="#000" stroke-width="0.25">1</text>
<text x="25.8" y="470.5" font-size="7.6" text-anchor="end" stroke="#000" stroke-width="0.25">2</text>
<text x="25.8" y="448.7" font-size="7.6" text-anchor="end" stroke="#000" stroke-width="0.25">3</text>
<text x="152.1" y="513.8" font-size="7.6" stroke="#000" stroke-width="0.25">0</text>
<text x="152.1" y="481.1" font-size="7.6" stroke="#000" stroke-width="0.25">0.5</text>
<text x="152.1" y="448.4" font-size="7.6" stroke="#000" stroke-width="0.25">1</text>
<text x="28.4" y="520.6" font-size="7.1" text-anchor="middle" stroke="#000" stroke-width="0.15">January</text>
<text x="88.41" y="520.6" font-size="7.1" text-anchor="middle" stroke="#000" stroke-width="0.15">July</text>
<text x="139.13" y="520.6" font-size="7.1" text-anchor="middle" stroke="#000" stroke-width="0.15">December</text>
<text transform="translate(5.4,478.8) rotate(-90)" font-size="7.75" text-anchor="middle" stroke="#000" stroke-width="0.4">Daily Exposed Sand</text>
<text transform="translate(14.6,477.55) rotate(-90)" font-size="7.9" text-anchor="middle" stroke="#000" stroke-width="0.4">(m<tspan font-size="5.5" dy="-3">2</tspan><tspan dy="3">, millions)</tspan></text>
<text transform="translate(171.6,479.1) rotate(-90)" font-size="7.85" text-anchor="middle" stroke="#000" stroke-width="0.4">Normalized Cumulative</text>
<text transform="translate(181.1,478.9) rotate(-90)" font-size="7.85" text-anchor="middle" stroke="#000" stroke-width="0.4">Exposed Sand</text>
<clipPath id="c13"><rect x="223.5" y="445.7" width="122.7" height="65.4"/></clipPath>
<g clip-path="url(#c13)" fill="none" stroke="#008000" stroke-linejoin="round">
<polyline points="223.5,511.1 233.84,505.55 243.17,500.53 253.51,494.97 263.51,489.6 273.85,484.04 283.85,478.67 294.19,473.11 304.52,467.56 314.52,462.18 324.86,456.63 334.86,451.25 346.2,445.7" stroke-width="1.3" stroke-dasharray="6 3.5"/>
<polyline points="223.5,473.4 233.84,473.4 233.84,473.4 243.17,473.4 243.17,473.4 253.51,473.4 253.51,473.4 263.51,473.4 263.51,473.4 273.85,473.4 273.85,473.4 283.85,473.4 283.85,473.4 294.19,473.4 294.19,473.4 304.52,473.4 304.52,473.4 314.52,473.4 314.52,473.4 324.86,473.4 324.86,473.4 334.86,473.4 334.86,473.4 346.2,473.4" stroke-width="1.3"/>
</g>
<path d="M233.84 511.1v-2.2M233.84 445.7v2.2M243.17 511.1v-2.2M243.17 445.7v2.2M253.51 511.1v-2.2M253.51 445.7v2.2M263.51 511.1v-2.2M263.51 445.7v2.2M273.85 511.1v-2.2M273.85 445.7v2.2M283.85 511.1v-2.2M283.85 445.7v2.2M294.19 511.1v-2.2M294.19 445.7v2.2M304.52 511.1v-2.2M304.52 445.7v2.2M314.52 511.1v-2.2M314.52 445.7v2.2M324.86 511.1v-2.2M324.86 445.7v2.2M334.86 511.1v-2.2M334.86 445.7v2.2M223.5 511.1h2.2M223.5 489.3h2.2M223.5 467.5h2.2M223.5 445.7h2.2M346.2 511.1h-2.2M346.2 478.4h-2.2M346.2 445.7h-2.2" stroke="#333" stroke-width="0.8" fill="none"/>
<rect x="223.5" y="445.7" width="122.7" height="65.4" fill="none" stroke="#000" stroke-width="1.2"/>
<text x="284.45" y="432.6" font-size="7.8" font-weight="bold" text-anchor="middle" stroke="#000" stroke-width="0.45">Constant Discharge</text>
<text x="284.85" y="442.2" font-size="7.8" font-style="italic" text-anchor="middle" stroke="#000" stroke-width="0.4">Theoretical Hydrograph</text>
<text x="220.9" y="514.1" font-size="7.6" text-anchor="end" stroke="#000" stroke-width="0.25">0</text>
<text x="220.9" y="492.3" font-size="7.6" text-anchor="end" stroke="#000" stroke-width="0.25">1</text>
<text x="220.9" y="470.5" font-size="7.6" text-anchor="end" stroke="#000" stroke-width="0.25">2</text>
<text x="220.9" y="448.7" font-size="7.6" text-anchor="end" stroke="#000" stroke-width="0.25">3</text>
<text x="347.9" y="513.8" font-size="7.6" stroke="#000" stroke-width="0.25">0</text>
<text x="347.9" y="481.1" font-size="7.6" stroke="#000" stroke-width="0.25">0.5</text>
<text x="347.9" y="448.4" font-size="7.6" stroke="#000" stroke-width="0.25">1</text>
<text x="223.5" y="520.6" font-size="7.1" text-anchor="middle" stroke="#000" stroke-width="0.15">January</text>
<text x="283.85" y="520.6" font-size="7.1" text-anchor="middle" stroke="#000" stroke-width="0.15">July</text>
<text x="334.86" y="520.6" font-size="7.1" text-anchor="middle" stroke="#000" stroke-width="0.15">December</text>
<text transform="translate(203.1,478.8) rotate(-90)" font-size="7.75" text-anchor="middle" stroke="#000" stroke-width="0.4">Daily Exposed Sand</text>
<text transform="translate(212.3,477.55) rotate(-90)" font-size="7.9" text-anchor="middle" stroke="#000" stroke-width="0.4">(m<tspan font-size="5.5" dy="-3">2</tspan><tspan dy="3">, millions)</tspan></text>
<text transform="translate(367.9,479.1) rotate(-90)" font-size="7.85" text-anchor="middle" stroke="#000" stroke-width="0.4">Normalized Cumulative</text>
<text transform="translate(377.4,478.9) rotate(-90)" font-size="7.85" text-anchor="middle" stroke="#000" stroke-width="0.4">Exposed Sand</text>
<clipPath id="c14"><rect x="418.5" y="445.7" width="122.8" height="65.4"/></clipPath>
<g clip-path="url(#c14)" fill="none" stroke="#008000" stroke-linejoin="round">
<polyline points="418.5,511.1 428.84,508.28 438.19,505.73 448.53,492.06 458.54,478.84 468.89,465.17 478.9,462.44 489.24,459.62 499.59,456.8 509.6,454.07 519.94,451.25 529.95,448.52 541.3,445.7" stroke-width="1.3" stroke-dasharray="6 3.5"/>
<polyline points="418.5,498.2 428.84,498.2 428.84,498.2 438.19,498.2 438.19,448.6 448.53,448.6 448.53,448.6 458.54,448.6 458.54,448.6 468.89,448.6 468.89,498.2 478.9,498.2 478.9,498.2 489.24,498.2 489.24,498.2 499.59,498.2 499.59,498.2 509.6,498.2 509.6,498.2 519.94,498.2 519.94,498.2 529.95,498.2 529.95,498.2 541.3,498.2" stroke-width="1.2"/>
</g>
<path d="M428.84 511.1v-2.2M428.84 445.7v2.2M438.19 511.1v-2.2M438.19 445.7v2.2M448.53 511.1v-2.2M448.53 445.7v2.2M458.54 511.1v-2.2M458.54 445.7v2.2M468.89 511.1v-2.2M468.89 445.7v2.2M478.9 511.1v-2.2M478.9 445.7v2.2M489.24 511.1v-2.2M489.24 445.7v2.2M499.59 511.1v-2.2M499.59 445.7v2.2M509.6 511.1v-2.2M509.6 445.7v2.2M519.94 511.1v-2.2M519.94 445.7v2.2M529.95 511.1v-2.2M529.95 445.7v2.2M418.5 511.1h2.2M418.5 494.75h2.2M418.5 478.4h2.2M418.5 462.05h2.2M418.5 445.7h2.2M541.3 511.1h-2.2M541.3 478.4h-2.2M541.3 445.7h-2.2" stroke="#333" stroke-width="0.8" fill="none"/>
<rect x="418.5" y="445.7" width="122.8" height="65.4" fill="none" stroke="#000" stroke-width="1.2"/>
<text x="479.75" y="432.6" font-size="7.8" font-weight="bold" text-anchor="middle" stroke="#000" stroke-width="0.45">28 m<tspan font-size="5.5" dy="-3.5">3</tspan><tspan dy="3.5">/s Windy Season</tspan></text>
<text x="479.9" y="442.2" font-size="7.8" font-style="italic" text-anchor="middle" stroke="#000" stroke-width="0.4">Theoretical Hydrograph</text>
<text x="415.9" y="514.1" font-size="7.6" text-anchor="end" stroke="#000" stroke-width="0.25">0</text>
<text x="415.9" y="497.75" font-size="7.6" text-anchor="end" stroke="#000" stroke-width="0.25">2</text>
<text x="415.9" y="481.4" font-size="7.6" text-anchor="end" stroke="#000" stroke-width="0.25">4</text>
<text x="415.9" y="465.05" font-size="7.6" text-anchor="end" stroke="#000" stroke-width="0.25">6</text>
<text x="415.9" y="448.7" font-size="7.6" text-anchor="end" stroke="#000" stroke-width="0.25">8</text>
<text x="543" y="513.8" font-size="7.6" stroke="#000" stroke-width="0.25">0</text>
<text x="543" y="481.1" font-size="7.6" stroke="#000" stroke-width="0.25">0.5</text>
<text x="543" y="448.4" font-size="7.6" stroke="#000" stroke-width="0.25">1</text>
<text x="418.5" y="520.6" font-size="7.1" text-anchor="middle" stroke="#000" stroke-width="0.15">January</text>
<text x="478.9" y="520.6" font-size="7.1" text-anchor="middle" stroke="#000" stroke-width="0.15">July</text>
<text x="529.95" y="520.6" font-size="7.1" text-anchor="middle" stroke="#000" stroke-width="0.15">December</text>
<text transform="translate(398.1,478.8) rotate(-90)" font-size="7.75" text-anchor="middle" stroke="#000" stroke-width="0.4">Daily Exposed Sand</text>
<text transform="translate(407.3,477.55) rotate(-90)" font-size="7.9" text-anchor="middle" stroke="#000" stroke-width="0.4">(m<tspan font-size="5.5" dy="-3">2</tspan><tspan dy="3">, millions)</tspan></text>
<text transform="translate(563.5,479.1) rotate(-90)" font-size="7.85" text-anchor="middle" stroke="#000" stroke-width="0.4">Normalized Cumulative</text>
<text transform="translate(573,478.9) rotate(-90)" font-size="7.85" text-anchor="middle" stroke="#000" stroke-width="0.4">Exposed Sand</text>
</svg></body></html>
